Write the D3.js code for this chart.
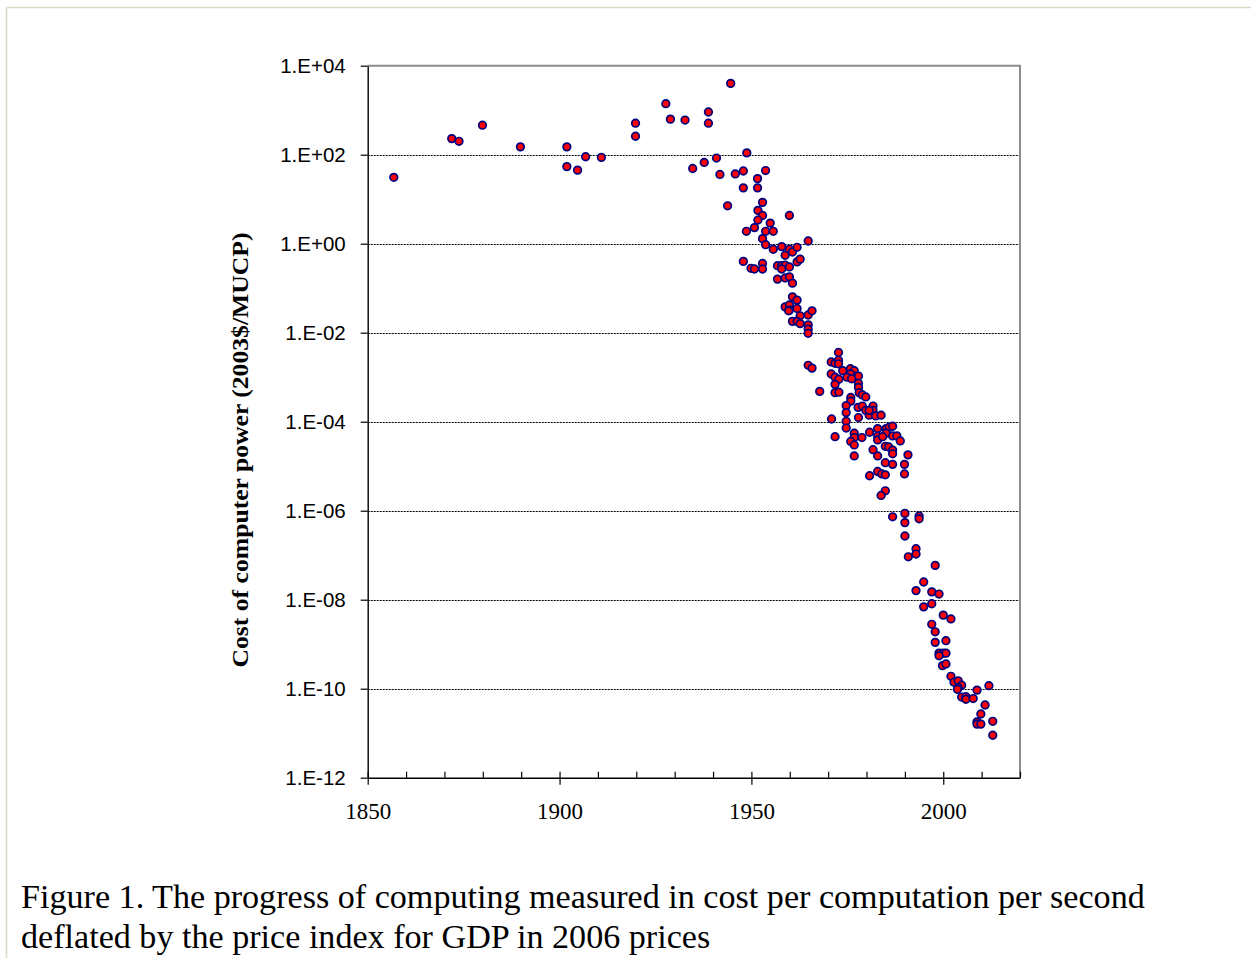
<!DOCTYPE html>
<html>
<head>
<meta charset="utf-8">
<script src="https://cdn.jsdelivr.net/npm/d3@7"></script>
<style>
body { margin: 0; background: #fff; }
svg { display: block; }
</style>
</head>
<body>
<div id="chart"></div>
<script>
var svgWidth = 1251
var svgHeight = 958

// year of each machine and its cost (2003$/MUCP)
var years = [
    1856.8, 1871.9, 1873.8, 1879.9, 1889.8, 1901.9, 1901.9, 1904.7, 1906.8, 1910.9,
    1919.8, 1919.8, 1927.7, 1928.9, 1932.7, 1938.8, 1938.8, 1944.6, 1948.8, 1934.7,
    1937.7, 1940.9, 1941.8, 1945.8, 1947.9, 1947.9, 1951.6, 1951.6, 1953.7, 1943.8,
    1952.9, 1951.7, 1952.9, 1951.7, 1954.9, 1950.8, 1948.7, 1953.7, 1955.7, 1952.9,
    1953.7, 1959.9, 1964.8, 1955.7, 1957.9, 1958.8, 1959.9, 1960.7, 1961.9, 1961.9,
    1962.7, 1947.9, 1949.9, 1950.8, 1952.9, 1952.9, 1956.8, 1957.9, 1958.8, 1959.9,
    1957.9, 1956.8, 1958.8, 1959.9, 1960.7, 1960.7, 1961.9, 1958.8, 1959.9, 1959.9,
    1961.9, 1964.8, 1965.8, 1962.7, 1960.7, 1961.9, 1962.7, 1964.8, 1964.8, 1964.8,
    1959.7,
    1972.7, 1970.8, 1971.8, 1972.7, 1972.7, 1964.8, 1965.8, 1973.8, 1975.8, 1976.8,
    1976.8, 1977.9, 1975.8, 1974.9, 1970.8, 1971.8, 1972.8, 1976.1, 1977.9, 1971.8,
    1977.9, 1978.1, 1971.8, 1972.8, 1967.8, 1978.9, 1979.8, 1975.9, 1975.9, 1974.7,
    1977.8, 1978.9, 1979.8, 1980.7, 1981.7, 1981.7, 1982.4, 1983.8, 1980.7, 1974.7,
    1970.9, 1977.9, 1974.7, 1974.7, 1980.8, 1982.9, 1982.9, 1982.9, 1985.1, 1985.9,
    1986.8, 1985.1, 1986.8, 1987.9, 1988.8, 1984.2, 1976.8, 1976.8, 1978.8, 1971.8,
    1975.9, 1976.8, 1976.8, 1981.7, 1982.9, 1984.9, 1985.8, 1986.8, 1986.8, 1990.8,
    1984.9, 1986.8, 1989.9, 1989.9, 1980.8, 1982.9, 1984.0, 1984.9, 1984.9, 1983.8,
    1986.8, 1990.0, 1990.0, 1993.7, 1993.7, 1990.0, 1992.9, 1992.9, 1990.9, 1997.9,
    1994.9, 1992.9, 1997.0, 1998.9, 1997.0, 1994.9, 2000.0, 2002.0, 1997.0, 1997.9,
    1997.9, 2000.7, 1998.9, 2000.0, 2000.7, 1998.9, 1999.8, 2000.7, 2002.0, 2002.8,
    2003.9, 2004.8, 2003.9, 2003.7, 2004.8, 2005.9, 2005.9, 2007.8, 2008.8, 2011.9,
    2010.9, 2009.8, 2008.8, 2008.8, 2009.8, 2012.9, 2012.9
]
var costs = [
    3.1e1, 2.3e2, 2.0e2, 4.6e2, 1.5e2, 1.5e2, 5.4e1, 4.5e1, 9.0e1, 8.7e1,
    5.1e2, 2.6e2, 1.4e3, 6.3e2, 6.0e2, 9.1e2, 5.1e2, 4.0e3, 1.1e2, 4.9e1,
    6.7e1, 8.4e1, 3.6e1, 3.7e1, 4.3e1, 1.8e1, 2.9e1, 1.8e1, 4.4e1, 7.1,
    8.5, 5.6, 4.3, 3.4, 2.9, 2.3, 1.9, 1.9, 1.9, 1.3,
    0.95, 4.3, 1.15, 0.75, 0.86, 0.55, 0.75, 0.65, 0.83, 0.39,
    0.45, 0.40, 0.28, 0.27, 0.36, 0.27, 0.32, 0.32, 0.33, 0.30,
    0.27, 0.16, 0.17, 0.18, 0.13, 6.4e-2, 5.4e-2, 3.8e-2, 4.2e-2, 3.2e-2,
    3.5e-2, 2.5e-2, 3.1e-2, 2.4e-2, 1.8e-2, 1.8e-2, 1.6e-2, 1.5e-2, 1.2e-2, 9.7e-3,
    3.1e-2,
    3.6e-3, 2.2e-3, 2.05e-3, 2.4e-3, 2.0e-3, 1.85e-3, 1.6e-3, 1.4e-3, 1.55e-3, 1.4e-3,
    1.06e-3, 1.06e-3, 1.18e-3, 1.0e-3, 1.18e-3, 1.0e-3, 9.0e-4, 9.2e-4, 7.3e-4, 6.9e-4,
    5.9e-4, 4.5e-4, 4.5e-4, 4.6e-4, 4.8e-4, 4.0e-4, 3.6e-4, 3.5e-4, 2.9e-4, 2.3e-4,
    2.1e-4, 2.25e-4, 1.8e-4, 1.4e-4, 2.25e-4, 1.8e-4, 1.35e-4, 1.4e-4, 1.8e-4, 1.6e-4,
    1.15e-4, 1.24e-4, 1.02e-4, 7.2e-5, 5.8e-5, 7.0e-5, 4.7e-5, 3.9e-5, 7.0e-5, 7.5e-5,
    7.9e-5, 5.5e-5, 4.8e-5, 4.8e-5, 3.7e-5, 4.6e-5, 5.5e-5, 4.4e-5, 4.4e-5, 4.6e-5,
    3.6e-5, 3.0e-5, 1.7e-5, 2.35e-5, 1.7e-5, 2.8e-5, 2.7e-5, 2.3e-5, 1.9e-5, 1.8e-5,
    1.2e-5, 1.1e-5, 1.1e-5, 6.7e-6, 6.1e-6, 7.6e-6, 6.7e-6, 6.4e-6, 2.8e-6, 2.2e-6,
    7.3e-7, 8.7e-7, 5.4e-7, 7.6e-7, 6.6e-7, 2.7e-7, 1.4e-7, 1.06e-7, 9.2e-8, 5.9e-8,
    2.5e-8, 1.6e-8, 1.5e-8, 1.34e-8, 8.1e-9, 6.9e-9, 4.5e-9, 3.7e-9, 2.8e-9, 1.9e-9,
    1.1e-9, 1.2e-9, 6.3e-10, 6.3e-10, 6.3e-10, 5.5e-10, 3.3e-10, 3.6e-10, 1.9e-10, 1.4e-10,
    1.5e-10, 1.2e-10, 1.05e-10, 9.7e-11, 6.5e-11, 6.6e-11, 5.8e-11, 6.0e-11, 9.3e-11, 1.17e-10,
    4.3e-11, 2.7e-11, 1.8e-11, 1.6e-11, 1.6e-11, 1.85e-11, 9.0e-12
]

var yTicks = [1e4, 1e2, 1e0, 1e-2, 1e-4, 1e-6, 1e-8, 1e-10, 1e-12]
var xMajorTicks = [1850, 1900, 1950, 2000]
var xMinorTicks = [1860, 1870, 1880, 1890, 1910, 1920, 1930, 1940, 1960, 1970, 1980, 1990, 2010, 2020]
var yTitle = 'Cost of computer power (2003$/MUCP)'
var captionLines = [
    'Figure 1. The progress of computing measured in cost per computation per second',
    'deflated by the price index for GDP in 2006 prices'
]

var points = years.map(function(y,i) {return {year: y, cost: costs[i]};})

var plotLeft = 367.7, plotRight = 1020, plotTop = 65.7, plotBottom = 777.7

var x = d3.scaleLinear().domain([1850, 2020]).range([plotLeft, plotRight])
var y = d3.scaleLog().domain([1e-12, 1e4]).range([plotBottom, plotTop])

var svg = d3.select('#chart').append('svg')
    .attr('width', svgWidth)
    .attr('height', svgHeight)

svg.append('rect')
    .attr('width', svgWidth)
    .attr('height', svgHeight)
    .attr('fill', '#fff')

// page frame (top and left only)
svg.append('line')
    .attr('x1', 6.5).attr('x2', svgWidth)
    .attr('y1', 7.5).attr('y2', 7.5)
    .attr('stroke', '#dcd8c2').attr('stroke-width', 1.6)
svg.append('line')
    .attr('x1', 6.5).attr('x2', 6.5)
    .attr('y1', 7.5).attr('y2', svgHeight)
    .attr('stroke', '#dcd8c2').attr('stroke-width', 1.6)

// dashed gridlines
svg.append('g')
    .selectAll('line')
    .data(yTicks.slice(1, -1))
    .enter()
    .append('line')
    .attr('x1', plotLeft)
    .attr('x2', plotRight)
    .attr('y1', function(d) {return Math.round(y(d)) + 0.5;})
    .attr('y2', function(d) {return Math.round(y(d)) + 0.5;})
    .attr('stroke', '#000')
    .attr('stroke-width', 1)
    .attr('stroke-dasharray', '2,1')

// grey plot border top and right
svg.append('path')
    .attr('d', 'M' + plotLeft + ',' + plotTop + 'H' + plotRight + 'V' + plotBottom)
    .attr('fill', 'none')
    .attr('stroke', '#8c8c8c')
    .attr('stroke-width', 2)

var yAxis = svg.append('g')
    .attr('transform', 'translate(' + plotLeft + ',0)')
    .call(d3.axisLeft(y)
	  .tickValues(yTicks)
	  .tickSizeInner(7)
	  .tickSizeOuter(0)
	  .tickPadding(15)
	  .tickFormat(function(d) {
	      var e = Math.round(Math.log10(d))
	      var s = Math.abs(e) < 10 ? '0' + Math.abs(e) : '' + Math.abs(e)
	      return '1.E' + (e < 0 ? '-' : '+') + s
	  }))
yAxis.selectAll('text')
    .attr('font-family', '"Liberation Sans", Arial, sans-serif')
    .attr('font-size', 20.5)
    .attr('fill', '#000')

// minor ticks point into the plot
svg.append('g')
    .attr('transform', 'translate(0,' + plotBottom + ')')
    .call(d3.axisBottom(x)
	  .tickValues(xMinorTicks)
	  .tickSizeInner(-6)
	  .tickSizeOuter(0)
	  .tickFormat(''))
    .select('.domain').remove()

var xAxis = svg.append('g')
    .attr('transform', 'translate(0,' + plotBottom + ')')
    .call(d3.axisBottom(x)
	  .tickValues(xMajorTicks)
	  .tickSizeInner(7)
	  .tickSizeOuter(0)
	  .tickPadding(18)
	  .tickFormat(d3.format('d')))
xAxis.selectAll('.tick line')
    .attr('y1', -6)
xAxis.selectAll('text')
    .attr('font-family', '"Liberation Serif", "Times New Roman", serif')
    .attr('font-size', 23)
    .attr('fill', '#000')

svg.selectAll('.domain')
    .attr('stroke', '#000')
    .attr('stroke-width', 1.4)
svg.selectAll('.tick line')
    .attr('stroke', '#000')
    .attr('stroke-width', 1.2)

svg.append('text')
    .attr('transform', 'translate(248,450) rotate(-90)')
    .attr('text-anchor', 'middle')
    .attr('font-family', '"Liberation Serif", "Times New Roman", serif')
    .attr('font-weight', 'bold')
    .attr('font-size', 23)
    .attr('textLength', 435)
    .attr('lengthAdjust', 'spacingAndGlyphs')
    .text(yTitle)

svg.append('g')
    .selectAll('circle')
    .data(points)
    .enter()
    .append('circle')
    .attr('cx', function(d) {return x(d.year);})
    .attr('cy', function(d) {return y(d.cost);})
    .attr('r', 3.8)
    .attr('fill', '#ff0000')
    .attr('stroke', '#000080')
    .attr('stroke-width', 1.7)

var caption = svg.append('g')
    .selectAll('text')
    .data(captionLines)
    .enter()
    .append('text')
    .attr('x', 21)
    .attr('y', function(d,i) {return 908 + i * 40;})
    .attr('font-family', '"Liberation Serif", "Times New Roman", serif')
    .attr('font-size', 32)
    .attr('fill', '#000')
    .text(function(d) {return d;})

// fit the caption's first line to its width in the figure
var w0 = caption.node().getComputedTextLength()
caption.attr('font-size', 32 * 1124 / w0)
</script>
</body>
</html>
